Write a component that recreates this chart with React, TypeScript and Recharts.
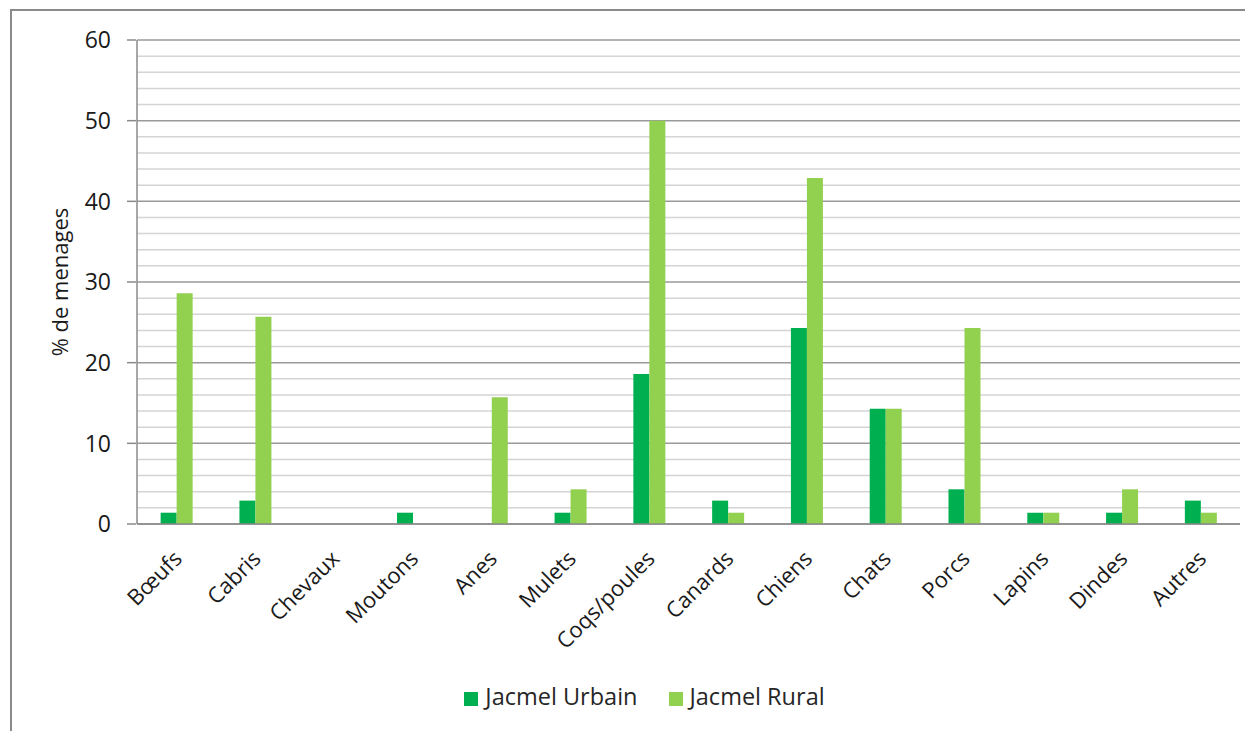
import { BarChart, Bar, XAxis, YAxis, CartesianGrid, Legend } from "recharts";

const categories = [
  "Bœufs", "Cabris", "Chevaux", "Moutons", "Anes", "Mulets", "Coqs/poules",
  "Canards", "Chiens", "Chats", "Porcs", "Lapins", "Dindes", "Autres",
];
const urbain = [1.4, 2.9, 0, 1.4, 0, 1.4, 18.6, 2.9, 24.3, 14.3, 4.3, 1.4, 1.4, 2.9];
const rural = [28.6, 25.7, 0, 0, 15.7, 4.3, 50, 1.4, 42.9, 14.3, 24.3, 1.4, 4.3, 1.4];
const gridTicks = [
  0, 2, 4, 6, 8, 10, 12, 14, 16, 18, 20, 22, 24, 26, 28, 30, 32, 34, 36, 38,
  40, 42, 44, 46, 48, 50, 52, 54, 56, 58, 60,
];

const data = categories.map((name, i) => ({ name, urbain: urbain[i], rural: rural[i] }));

const FONT = "'Open Sans', sans-serif";
const DARK = "#00b050";
const LIGHT = "#92d050";
const AXIS = "#8a8a8a";

function XTick({ x, y, payload }: any) {
  const tx = x + 7;
  const ty = y + 28;
  return (
    <text
      x={tx}
      y={ty}
      transform={`rotate(-45, ${tx}, ${ty})`}
      textAnchor="end"
      fontSize={22}
      fontFamily={FONT}
      fill="#1a1a1a"
    >
      {payload.value}
    </text>
  );
}

// only every 10 gets a label and a tick mark
function YTick({ x, y, payload }: any) {
  if (payload.value % 10 !== 0) return null;
  return (
    <g>
      <line x1={x + 1} y1={y} x2={x + 10} y2={y} stroke={AXIS} strokeWidth={1.5} />
      <text
        x={x - 15}
        y={y}
        dy="0.36em"
        textAnchor="end"
        fontSize={23}
        fontFamily={FONT}
        fill="#1a1a1a"
      >
        {payload.value}
      </text>
    </g>
  );
}

// light line every 2, darker line every 10
function GridLine(p: any) {
  const v = Math.round(((p.y + p.height - p.y1) / p.height) * 60);
  const major = v % 10 === 0;
  return (
    <line
      key={p.key}
      x1={p.x1}
      y1={p.y1}
      x2={p.x2}
      y2={p.y2}
      stroke={major ? "#9a9a9a" : "#d4d4d4"}
      strokeWidth={1.5}
    />
  );
}

export default function App() {
  return (
    <div style={{ position: "relative", width: 1245, height: 723, overflow: "hidden" }}>
      <div
        style={{
          position: "absolute",
          left: 2,
          top: 1,
          width: 1400,
          height: 900,
          borderTop: "2px solid #8a8a8a",
          borderLeft: "2px solid #8a8a8a",
        }}
      />
      <BarChart
        width={1245}
        height={723}
        data={data}
        margin={{ top: 32, right: 13, left: 0, bottom: 19 }}
        barCategoryGap="30%"
        barGap={0}
        style={{ position: "absolute", left: 0, top: 0 }}
      >
        <CartesianGrid vertical={false} horizontal={GridLine} />
        <XAxis
          dataKey="name"
          interval={0}
          height={156}
          tick={<XTick />}
          tickLine={false}
          axisLine={{ stroke: AXIS, strokeWidth: 1.5 }}
        />
        <YAxis
          domain={[0, 60]}
          ticks={gridTicks}
          interval={0}
          width={129}
          tickSize={9}
          tickLine={false}
          axisLine={{ stroke: AXIS, strokeWidth: 1.5 }}
          tick={<YTick />}
          label={{
            value: "% de menages",
            angle: -90,
            position: "insideLeft",
            offset: 52,
            style: { fontSize: 22, fontFamily: FONT, fill: "#1a1a1a", textAnchor: "middle" },
          }}
        />
        <Legend
          verticalAlign="bottom"
          iconType="square"
          iconSize={14}
          itemSorter={(item: any) => (item.dataKey === "urbain" ? 0 : 1)}
          wrapperStyle={{ fontFamily: FONT, fontSize: 23.5, paddingLeft: 36 }}
          formatter={(v: string) => (
            <span style={{ color: "#262626", marginLeft: 3, marginRight: 21 }}>{v}</span>
          )}
        />
        <Bar dataKey="urbain" name="Jacmel Urbain" fill={DARK} isAnimationActive={false} />
        <Bar dataKey="rural" name="Jacmel Rural" fill={LIGHT} isAnimationActive={false} />
      </BarChart>
    </div>
  );
}
